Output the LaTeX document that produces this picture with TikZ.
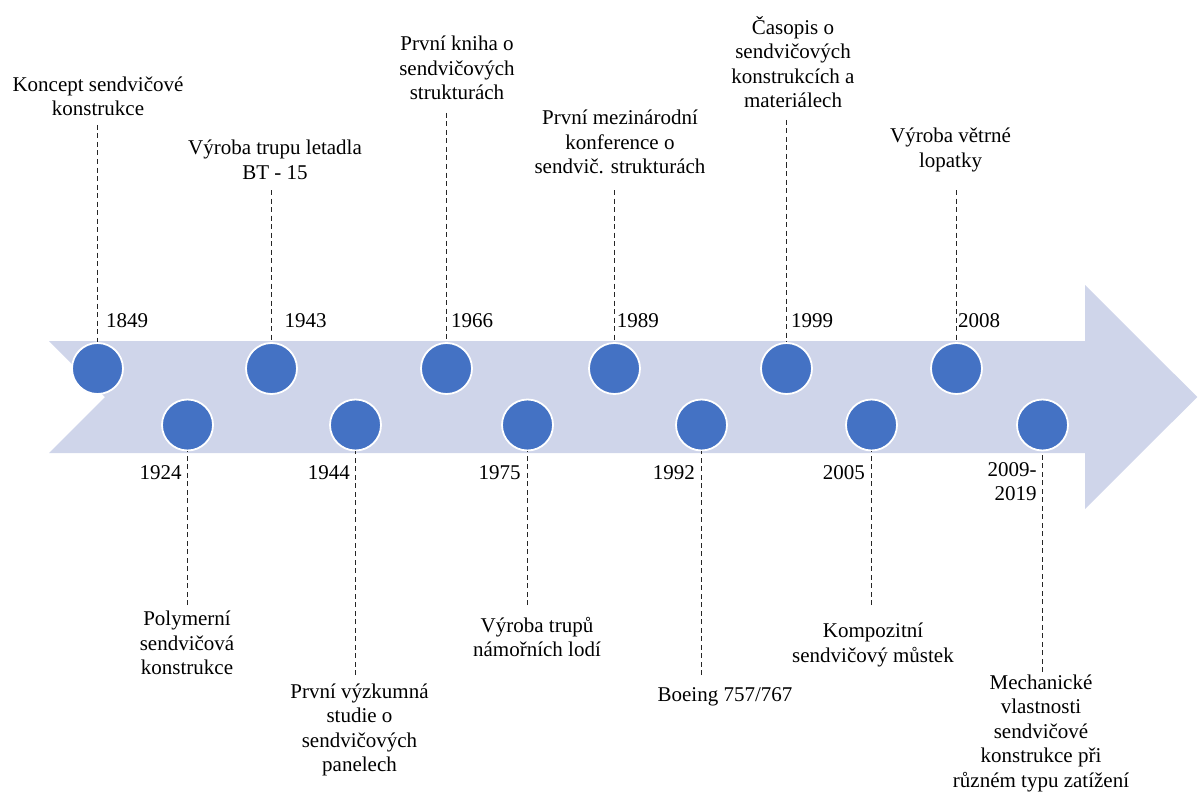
\documentclass[tikz,border=0pt]{standalone}
\usepackage{fontspec}
\setmainfont{Liberation Serif}
\definecolor{band}{HTML}{CFD5EA}
\definecolor{dotblue}{HTML}{4472C4}
\begin{document}
\begin{tikzpicture}[x=1pt,y=-1pt,
 dot/.style={circle,fill=dotblue,draw=white,line width=1.8pt,minimum size=51pt,inner sep=0pt},
 link/.style={draw=black!85,line width=1pt,dash pattern=on 5pt off 3.5pt},
 lbl/.style={font=\fontsize{21}{24.5}\selectfont,align=center,inner sep=0pt,anchor=north,execute at begin node=\strut},
 yr/.style={font=\fontsize{21}{24.5}\selectfont,inner sep=0pt}]
\useasboundingbox (0,0) rectangle (1202,797);
\fill[band] (49,341) -- (1085,341) -- (1085,285) -- (1197.3,397) -- (1085,509) -- (1085,453) -- (49,453) -- (105,397) -- cycle;
% circles
\node[dot] (c1849) at (97.5,368.5) {};
\node[dot] (c1924) at (187.5,425) {};
\node[dot] (c1943) at (271.5,368.5) {};
\node[dot] (c1944) at (355.5,425) {};
\node[dot] (c1966) at (446.5,368.5) {};
\node[dot] (c1975) at (527.5,425) {};
\node[dot] (c1989) at (614.5,368.5) {};
\node[dot] (c1992) at (701.5,425) {};
\node[dot] (c1999) at (786.5,368.5) {};
\node[dot] (c2005) at (871.5,425) {};
\node[dot] (c2008) at (956.5,368.5) {};
\node[dot] (c2009) at (1042.5,425) {};
% free ends of dashed connectors
\coordinate (e1849) at (97.5,125);
\coordinate (e1943) at (271.5,190);
\coordinate (e1966) at (446.5,113);
\coordinate (e1989) at (614.5,190);
\coordinate (e1999) at (786.5,120);
\coordinate (e2008) at (956.5,190);
\coordinate (e1924) at (187.5,605);
\coordinate (e1944) at (355.5,675);
\coordinate (e1975) at (527.5,605);
\coordinate (e1992) at (701.5,675);
\coordinate (e2005) at (871.5,605);
\coordinate (e2009) at (1042.5,672);
\foreach \n in {1849,1943,1966,1989,1999,2008,1924,1944,1975,1992,2005,2009}
  \draw[link] (e\n) -- (c\n);
% texts
\node[lbl] (t1849) at (98,76.4) {Koncept sendvičové\\konstrukce};
\node[lbl] (t1943) at (275,139.9) {Výroba trupu letadla\\BT - 15};
\node[lbl] (t1966) at (457,35.9) {První kniha o\\sendvičových\\strukturách};
\node[lbl] (t1989) at (620,109.9) {První mezinárodní\\konference o\\sendvič. strukturách};
\node[lbl] (t1999) at (793,15.9) {Časopis o\\sendvičových\\konstrukcích a\\materiálech};
\node[lbl] (t2008) at (950.5,127.9) {Výroba větrné\\lopatky};
\node[lbl] (t1924) at (187,610.9) {Polymerní\\sendvičová\\konstrukce};
\node[lbl] (t1944) at (359.5,683.6) {První výzkumná\\studie o\\sendvičových\\panelech};
\node[lbl] (t1975) at (537,616.9) {Výroba trupů\\námořních lodí};
\node[lbl] (t1992) at (725,684.6) {Boeing 757/767};
\node[lbl] (t2005) at (873,622.9) {Kompozitní\\sendvičový můstek};
\node[lbl] (t2009) at (1041,674.6) {Mechanické\\vlastnosti\\sendvičové\\konstrukce při\\různém typu zatížení};
% years
\node[yr,anchor=base west] (y1849) at (106,327.3) {1849};
\node[yr,anchor=base west] (y1943) at (284.3,327.3) {1943};
\node[yr,anchor=base west] (y1966) at (451,327.3) {1966};
\node[yr,anchor=base west] (y1989) at (616.7,327.3) {1989};
\node[yr,anchor=base west] (y1999) at (791,327.3) {1999};
\node[yr,anchor=base west] (y2008) at (958,327.3) {2008};
\node[yr,anchor=base east] (y1924) at (181.7,479) {1924};
\node[yr,anchor=base east] (y1944) at (350,479) {1944};
\node[yr,anchor=base east] (y1975) at (520.7,479) {1975};
\node[yr,anchor=base east] (y1992) at (695,479) {1992};
\node[yr,anchor=base east] (y2005) at (865,479) {2005};
\node[yr,align=right,anchor=north east,execute at begin node=\strut] (y2009) at (1036.7,461.85) {2009-\\2019};
\end{tikzpicture}
\end{document}
